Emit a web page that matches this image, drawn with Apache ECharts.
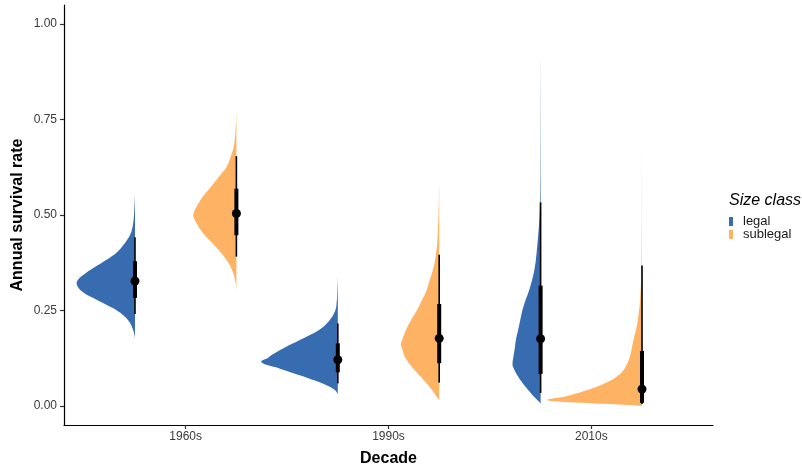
<!DOCTYPE html>
<html>
<head>
<meta charset="utf-8">
<title>Annual survival rate by decade</title>
<script src="https://cdn.jsdelivr.net/npm/echarts@6/dist/echarts.min.js"></script>
<style>
  html, body { margin: 0; padding: 0; background: #ffffff; }
  #chart { width: 802px; height: 467px; }
</style>
</head>
<body>
<div id="chart"></div>
<script>
// Categories
const decades = ['1960s', '1990s', '2010s'];
const sizeClasses = ['legal', 'sublegal'];

// Posterior summaries: median, 66% interval and 95% interval, per decade
const legalMedian     = [0.327, 0.121, 0.176];
const legalInnerLow   = [0.283, 0.088, 0.084];
const legalInnerHigh  = [0.379, 0.164, 0.315];
const legalOuterLow   = [0.241, 0.059, 0.034];
const legalOuterHigh  = [0.442, 0.216, 0.533];

const sublegalMedian    = [0.504, 0.177, 0.044];
const sublegalInnerLow  = [0.447, 0.112, 0.008];
const sublegalInnerHigh = [0.569, 0.267, 0.144];
const sublegalOuterLow  = [0.391, 0.061, 0.005];
const sublegalOuterHigh = [0.654, 0.396, 0.368];

// Posterior densities: survival value grid and density at each value
const legal1960sValue = [0.176, 0.200, 0.225, 0.250, 0.275, 0.300, 0.325, 0.350, 0.375, 0.400, 0.425, 0.450, 0.475, 0.500, 0.525, 0.557];
const legal1960sDensity = [0, 2, 7, 18, 36, 53, 58, 48, 33, 19, 10.5, 4.5, 2, 1, 0.5, 0];

const legal1990sValue = [0.031, 0.050, 0.075, 0.100, 0.114, 0.125, 0.150, 0.175, 0.200, 0.225, 0.250, 0.275, 0.300, 0.341];
const legal1990sDensity = [0, 8, 32, 60, 76, 70, 55, 36, 18, 8, 2.5, 1, 0.5, 0];

const legal2010sValue = [0.005, 0.025, 0.050, 0.075, 0.100, 0.110, 0.125, 0.150, 0.175, 0.200, 0.225, 0.250, 0.275, 0.300, 0.325, 0.350, 0.375, 0.400, 0.450, 0.500, 0.550, 0.600, 0.700, 0.800, 0.900, 0.925];
const legal2010sDensity = [0, 7, 15, 22, 27, 28, 27.3, 25.8, 24.5, 22.3, 20.3, 18.2, 15.3, 11.8, 9, 6.7, 5.1, 4, 2.3, 1.1, 0.6, 0.4, 0.25, 0.15, 0.05, 0];

const sublegal1960sValue = [0.302, 0.325, 0.350, 0.375, 0.400, 0.425, 0.450, 0.475, 0.500, 0.525, 0.550, 0.575, 0.600, 0.625, 0.650, 0.675, 0.700, 0.725, 0.750, 0.775];
const sublegal1960sDensity = [0, 1, 3.5, 8, 15, 23.5, 32.5, 39, 43, 39, 33, 25, 17.5, 10, 6, 3, 1.5, 0.8, 0.3, 0];

const sublegal1990sValue = [0.013, 0.025, 0.050, 0.075, 0.100, 0.125, 0.150, 0.162, 0.175, 0.200, 0.225, 0.250, 0.275, 0.300, 0.325, 0.350, 0.375, 0.400, 0.425, 0.450, 0.500, 0.550, 0.591];
const sublegal1990sDensity = [0, 3, 9.6, 18, 26.5, 33.5, 37, 38.3, 36.5, 33, 28, 22.3, 17.5, 13, 10, 7, 4.6, 3.1, 2, 1.5, 0.7, 0.3, 0];

const sublegal2010sValue = [0.000, 0.013, 0.025, 0.035, 0.050, 0.070, 0.090, 0.115, 0.140, 0.170, 0.215, 0.275, 0.350, 0.430, 0.550, 0.700];
const sublegal2010sDensity = [0, 91, 76, 62, 45, 29, 19.5, 14, 11, 8.7, 4.7, 2, 0.7, 0.3, 0.15, 0];

// Y axis tick labels
const yTicks = [0, 0.25, 0.5, 0.75, 1.0];
const yTickLabels = ['0.00', '0.25', '0.50', '0.75', '1.00'];

// ---- assembling the series ----
const slabs = {
  legal: [
    [legal1960sValue, legal1960sDensity],
    [legal1990sValue, legal1990sDensity],
    [legal2010sValue, legal2010sDensity]
  ],
  sublegal: [
    [sublegal1960sValue, sublegal1960sDensity],
    [sublegal1990sValue, sublegal1990sDensity],
    [sublegal2010sValue, sublegal2010sDensity]
  ]
};
const summaries = {
  legal: [legalMedian, legalInnerLow, legalInnerHigh, legalOuterLow, legalOuterHigh],
  sublegal: [sublegalMedian, sublegalInnerLow, sublegalInnerHigh, sublegalOuterLow, sublegalOuterHigh]
};

const colors = { legal: '#386cb0', sublegal: '#fdb264' };
const dodge = { legal: -0.25, sublegal: 0.25 };
const slabMaxWidth = 0.45; // in x-axis units, for the largest density of all slabs

let maxDensity = 0;
sizeClasses.forEach(c => slabs[c].forEach(s => s[1].forEach(d => { if (d > maxDensity) maxDensity = d; })));
const densityScale = slabMaxWidth / maxDensity;

// Catmull-Rom pass over the outline (pixel space) so the slab edge is drawn as a smooth curve
function smoothOutline(pts, edgeX, steps) {
  const out = [];
  const n = pts.length;
  for (let i = 0; i < n - 1; i++) {
    const p0 = pts[Math.max(i - 1, 0)], p1 = pts[i], p2 = pts[i + 1], p3 = pts[Math.min(i + 2, n - 1)];
    for (let s = 0; s < steps; s++) {
      const t = s / steps, t2 = t * t, t3 = t2 * t;
      const x = 0.5 * ((2 * p1[0]) + (-p0[0] + p2[0]) * t + (2 * p0[0] - 5 * p1[0] + 4 * p2[0] - p3[0]) * t2 + (-p0[0] + 3 * p1[0] - 3 * p2[0] + p3[0]) * t3);
      const y = p1[1] + (p2[1] - p1[1]) * t;
      out.push([Math.min(x, edgeX), y]);
    }
  }
  out.push(pts[n - 1]);
  return out;
}

function makeSeries(cls) {
  const s = summaries[cls];
  const data = decades.map((d, i) => [i + 1 + dodge[cls], s[0][i], s[1][i], s[2][i], s[3][i], s[4][i]]);
  return {
    name: cls,
    type: 'custom',
    color: colors[cls],
    data: data,
    encode: { x: 0, y: [1, 2, 3, 4, 5] },
    renderItem: function (params, api) {
      const i = params.dataIndex;
      const x0 = api.value(0);
      const vals = slabs[cls][i][0];
      const dens = slabs[cls][i][1];
      const curve = [];
      for (let k = 0; k < vals.length; k++) {
        curve.push(api.coord([x0 - dens[k] * densityScale, vals[k]]));
      }
      const edgeBottom = api.coord([x0, vals[0]]);
      const edgeTop = api.coord([x0, vals[vals.length - 1]]);
      const pts = smoothOutline(curve, edgeBottom[0], 8);
      pts.push(edgeTop, edgeBottom);

      const med = api.coord([x0, api.value(1)]);
      const inLo = api.coord([x0, api.value(2)]);
      const inHi = api.coord([x0, api.value(3)]);
      const outLo = api.coord([x0, api.value(4)]);
      const outHi = api.coord([x0, api.value(5)]);
      return {
        type: 'group',
        children: [
          { type: 'polygon', shape: { points: pts }, style: { fill: colors[cls], stroke: null } },
          { type: 'line', shape: { x1: outLo[0], y1: outLo[1], x2: outHi[0], y2: outHi[1] },
            style: { stroke: '#000', lineWidth: 1.6 } },
          { type: 'line', shape: { x1: inLo[0], y1: inLo[1], x2: inHi[0], y2: inHi[1] },
            style: { stroke: '#000', lineWidth: 4 } },
          { type: 'circle', shape: { cx: med[0], cy: med[1], r: 4.5 }, style: { fill: '#000' } }
        ]
      };
    }
  };
}

const fontFamily = '"Liberation Sans", Arial, Helvetica, sans-serif';

const option = {
  animation: false,
  backgroundColor: '#ffffff',
  title: {
    text: 'Size class',
    left: 729,
    top: 193,
    padding: 0,
    textStyle: { fontFamily: fontFamily, fontSize: 16, fontStyle: 'italic', fontWeight: 'normal', color: '#000' }
  },
  legend: {
    orient: 'vertical',
    left: 729,
    top: 215,
    icon: 'rect',
    itemWidth: 4,
    itemHeight: 9,
    itemGap: 0,
    data: sizeClasses,
    textStyle: { fontFamily: fontFamily, fontSize: 13, lineHeight: 12, color: '#1a1a1a', padding: [0, 0, 0, 5] },
    padding: 0
  },
  grid: { left: 64, top: 5, width: 649, height: 420, containLabel: false, outerBoundsMode: 'none' },
  xAxis: {
    type: 'value',
    min: 0.4,
    max: 3.6,
    name: 'Decade',
    nameLocation: 'middle',
    nameGap: 26,
    nameMoveOverlap: false,
    nameTextStyle: { fontFamily: fontFamily, fontSize: 16, fontWeight: 'bold', color: '#000' },
    axisLine: { show: true, onZero: false, lineStyle: { color: '#000', width: 1.2 } },
    axisTick: { show: true, customValues: [1, 2, 3], length: 4, lineStyle: { color: '#333', width: 1.2 } },
    axisLabel: {
      customValues: [1, 2, 3],
      formatter: v => decades[Math.round(v) - 1] || '',
      margin: 6,
      fontFamily: fontFamily, fontSize: 12, color: '#3a3a3a'
    },
    splitLine: { show: false }
  },
  yAxis: {
    type: 'value',
    min: -0.05,
    max: 1.05,
    name: 'Annual survival rate',
    nameLocation: 'middle',
    nameGap: 38,
    nameMoveOverlap: false,
    nameTextStyle: { fontFamily: fontFamily, fontSize: 16, fontWeight: 'bold', color: '#000' },
    axisLine: { show: true, onZero: false, lineStyle: { color: '#000', width: 1.2 } },
    axisTick: { show: true, customValues: yTicks, length: 4, lineStyle: { color: '#333', width: 1.2 } },
    axisLabel: {
      customValues: yTicks,
      formatter: v => {
        const idx = yTicks.findIndex(t => Math.abs(t - v) < 1e-9);
        return idx >= 0 ? yTickLabels[idx] : '';
      },
      margin: 7,
      fontFamily: fontFamily, fontSize: 12, color: '#3a3a3a'
    },
    splitLine: { show: false }
  },
  series: sizeClasses.map(makeSeries)
};

const chart = echarts.init(document.getElementById('chart'), null, { renderer: 'canvas' });
chart.setOption(option);
</script>
</body>
</html>
